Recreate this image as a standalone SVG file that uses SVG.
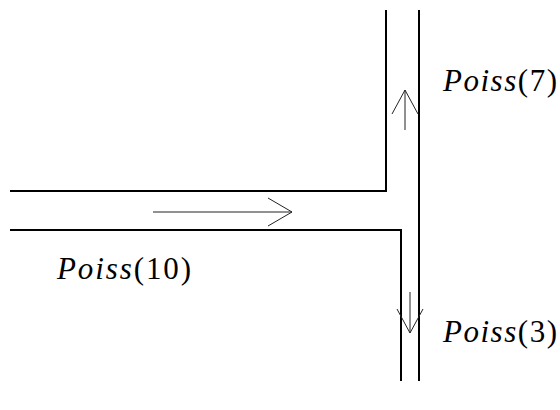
<svg xmlns="http://www.w3.org/2000/svg" width="560" height="410" viewBox="0 0 560 410">
<style>
.wall{fill:none;stroke:#000;stroke-width:2}
.arr{fill:none;stroke:#222;stroke-width:1}
.lbl{font-family:"Liberation Serif","Times New Roman",serif;font-size:31px;fill:#000}
.it{font-style:italic}
</style>
<rect width="560" height="410" fill="#fff"/>
<g id="channels">
<path class="wall" d="M10,191 H386 V10"/>
<path class="wall" d="M10,230 H401 V381"/>
<path class="wall" d="M419,10 V381"/>
</g>
<g id="connectors">
<path class="arr" d="M153,212 H292 M268,198 L292,212 L268,226"/>
<path class="arr" d="M405,130 V90 M392,114 L405,90 L418,114"/>
<path class="arr" d="M410,292 V333 M397,309 L410,333 L423,309"/>
</g>
<g id="label-in"><text class="lbl" x="57" y="279" textLength="134" lengthAdjust="spacing"><tspan class="it">Poiss</tspan>(10)</text></g>
<g id="label-up"><text class="lbl" x="443" y="91" textLength="114" lengthAdjust="spacing"><tspan class="it">Poiss</tspan>(7)</text></g>
<g id="label-down"><text class="lbl" x="443" y="342" textLength="114" lengthAdjust="spacing"><tspan class="it">Poiss</tspan>(3)</text></g>
</svg>
